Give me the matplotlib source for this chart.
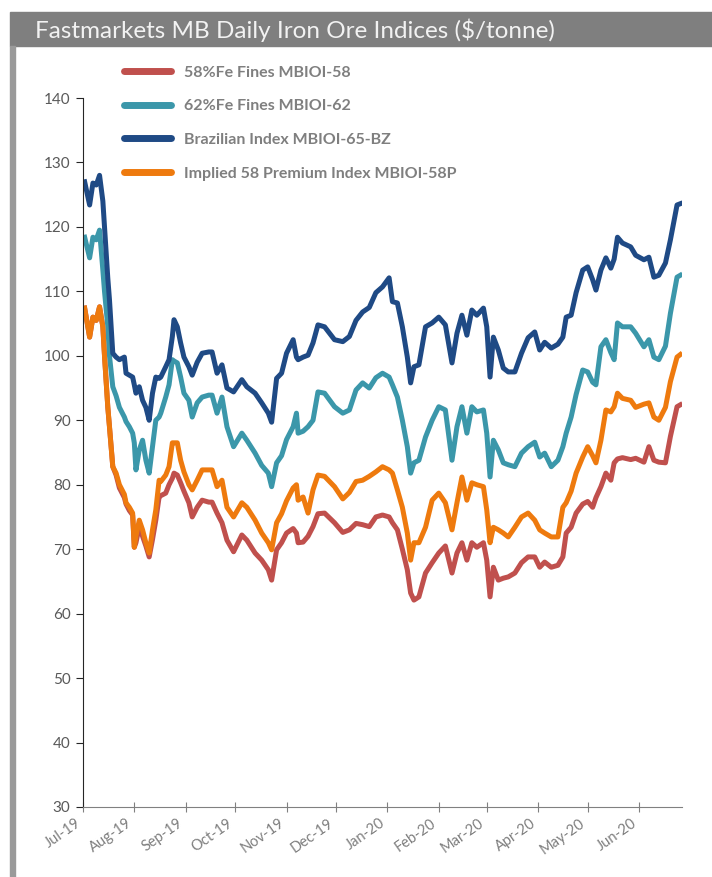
import matplotlib
matplotlib.use("Agg")
import matplotlib.pyplot as plt
import matplotlib.dates as mdates
import pandas as pd
from matplotlib.patches import Rectangle

plt.rcParams['font.family'] = ['Lato', 'DejaVu Sans']

# fechas (aprox. lecturas del grafico)
fechas = [
    "2019-07-02", "2019-07-05", "2019-07-07", "2019-07-09", "2019-07-11", "2019-07-13",
    "2019-07-14", "2019-07-16", "2019-07-17", "2019-07-19", "2019-07-21", "2019-07-23",
    "2019-07-26", "2019-07-27", "2019-07-29", "2019-07-31", "2019-08-01", "2019-08-02",
    "2019-08-04", "2019-08-06", "2019-08-08", "2019-08-10", "2019-08-12", "2019-08-14",
    "2019-08-16", "2019-08-17", "2019-08-20", "2019-08-22", "2019-08-24", "2019-08-25",
    "2019-08-27", "2019-08-29", "2019-08-31", "2019-09-03", "2019-09-05", "2019-09-08",
    "2019-09-11", "2019-09-15", "2019-09-17", "2019-09-20", "2019-09-23", "2019-09-26",
    "2019-09-30", "2019-10-05", "2019-10-08", "2019-10-13", "2019-10-17", "2019-10-21",
    "2019-10-23", "2019-10-26", "2019-10-29", "2019-11-01", "2019-11-05", "2019-11-07",
    "2019-11-08", "2019-11-11", "2019-11-14", "2019-11-17", "2019-11-20", "2019-11-24",
    "2019-11-30", "2019-12-05", "2019-12-09", "2019-12-13", "2019-12-17", "2019-12-21",
    "2019-12-25", "2019-12-29", "2020-01-02", "2020-01-04", "2020-01-07", "2020-01-10",
    "2020-01-13", "2020-01-15", "2020-01-17", "2020-01-20", "2020-01-24", "2020-01-28",
    "2020-02-01", "2020-02-05", "2020-02-09", "2020-02-12", "2020-02-15", "2020-02-18",
    "2020-02-21", "2020-02-24", "2020-02-28", "2020-03-01", "2020-03-03", "2020-03-05",
    "2020-03-08", "2020-03-11", "2020-03-14", "2020-03-18", "2020-03-22", "2020-03-26",
    "2020-03-30", "2020-04-02", "2020-04-05", "2020-04-09", "2020-04-13", "2020-04-16",
    "2020-04-18", "2020-04-21", "2020-04-24", "2020-04-28", "2020-05-01", "2020-05-04",
    "2020-05-06", "2020-05-09", "2020-05-12", "2020-05-15", "2020-05-17", "2020-05-19",
    "2020-05-22", "2020-05-27", "2020-05-30", "2020-06-04", "2020-06-07", "2020-06-10",
    "2020-06-13", "2020-06-17", "2020-06-20", "2020-06-24", "2020-06-26",
]

mbioi_58 = [
    107.4, 102.9, 106.0, 105.5, 107.6, 104.5, 100.0, 92.0, 89.0, 82.8, 81.5, 79.5,
    78.0, 77.0, 76.0, 75.3, 70.3, 71.0, 73.5, 72.0, 70.5, 68.8, 71.5, 74.5,
    78.1, 78.3, 78.7, 80.0, 81.0, 81.8, 81.5, 80.3, 79.0, 77.2, 75.0, 76.5,
    77.6, 77.3, 77.3, 75.6, 74.1, 71.4, 69.6, 72.2, 71.4, 69.4, 68.3, 66.8,
    65.2, 69.9, 71.0, 72.5, 73.2, 72.5, 71.0, 71.1, 72.0, 73.5, 75.5, 75.6,
    74.1, 72.6, 73.0, 74.0, 73.8, 73.5, 75.0, 75.3, 75.0, 74.1, 73.0, 70.0,
    66.8, 63.2, 62.1, 62.6, 66.3, 67.9, 69.4, 70.5, 66.3, 69.4, 71.0, 68.3,
    71.0, 70.3, 71.0, 68.3, 62.6, 67.2, 65.2, 65.5, 65.7, 66.3, 67.9, 68.8,
    68.8, 67.2, 68.0, 67.2, 67.5, 68.8, 72.5, 73.4, 75.6, 77.0, 77.4, 76.5,
    78.0, 79.7, 81.8, 80.7, 83.4, 84.0, 84.2, 83.9, 84.1, 83.5, 85.9, 83.8,
    83.5, 83.4, 87.5, 92.1, 92.4,
]

mbioi_62 = [
    118.4, 115.2, 118.4, 118.0, 119.5, 113.3, 110.0, 104.5, 100.0, 95.2, 93.8, 92.0,
    90.5, 89.8, 89.0, 88.0, 86.5, 82.3, 85.4, 86.9, 83.8, 81.8, 85.9, 90.0,
    90.5, 91.1, 93.6, 95.5, 99.4, 99.2, 98.9, 96.7, 94.2, 93.1, 90.5, 92.7,
    93.6, 93.9, 93.9, 91.1, 93.6, 89.0, 85.9, 88.0, 86.9, 84.9, 83.0, 81.8,
    79.7, 83.4, 84.5, 87.0, 89.0, 91.1, 88.0, 88.3, 89.0, 90.0, 94.4, 94.2,
    92.1, 91.1, 91.6, 94.7, 95.8, 95.0, 96.6, 97.3, 96.7, 95.5, 93.6, 90.0,
    85.9, 81.8, 83.4, 83.8, 87.4, 90.0, 92.1, 91.6, 83.8, 89.0, 92.1, 88.0,
    92.1, 91.3, 91.6, 88.0, 81.2, 86.9, 85.4, 83.4, 83.1, 82.8, 84.9, 85.9,
    86.6, 84.3, 84.9, 82.8, 83.8, 85.9, 88.0, 90.5, 94.0, 97.8, 97.5, 95.9,
    95.5, 101.4, 102.5, 100.5, 99.4, 105.1, 104.5, 104.5, 103.5, 101.4, 102.5, 99.8,
    99.4, 101.5, 106.6, 112.2, 112.5,
]

mbioi_65_bz = [
    127.0, 123.4, 126.8, 126.5, 128.0, 124.0, 120.0, 112.0, 108.7, 100.4, 99.8, 99.4,
    99.8, 97.3, 97.0, 96.7, 95.5, 94.2, 95.2, 93.1, 92.0, 90.0, 94.2, 96.7,
    96.5, 96.7, 98.3, 99.4, 103.0, 105.6, 104.5, 102.0, 99.8, 98.3, 97.0, 99.0,
    100.4, 100.6, 100.6, 97.3, 98.6, 95.0, 94.4, 96.3, 95.2, 94.2, 92.7, 91.1,
    89.7, 96.5, 97.3, 100.4, 102.5, 99.8, 99.4, 99.8, 100.1, 102.0, 104.8, 104.5,
    102.5, 102.2, 103.0, 105.5, 106.8, 107.5, 109.8, 110.7, 112.1, 108.4, 108.2, 104.5,
    99.8, 95.8, 98.3, 98.6, 104.5, 105.1, 106.0, 104.8, 98.9, 103.5, 106.3, 103.2,
    107.1, 106.3, 107.4, 104.5, 96.7, 102.9, 100.9, 98.1, 97.5, 97.5, 100.4, 102.8,
    103.7, 100.9, 102.1, 101.2, 101.8, 102.9, 106.0, 106.3, 109.8, 113.3, 113.8, 111.8,
    110.2, 113.3, 115.2, 113.6, 115.0, 118.4, 117.5, 116.9, 115.6, 114.9, 115.3, 112.2,
    112.5, 114.4, 118.0, 123.4, 123.6,
]

mbioi_58p = [
    107.4, 102.9, 106.0, 105.5, 107.6, 104.5, 100.0, 92.0, 89.0, 82.8, 81.8, 80.0,
    78.5, 77.2, 76.5, 75.6, 70.3, 72.0, 74.5, 73.0, 71.0, 69.4, 73.0, 76.1,
    80.7, 80.5, 81.5, 82.8, 86.5, 86.5, 86.5, 83.8, 82.0, 80.0, 79.2, 80.7,
    82.3, 82.3, 82.3, 79.7, 80.7, 76.5, 75.0, 77.2, 76.5, 74.5, 72.5, 71.0,
    69.9, 74.1, 75.5, 77.5, 79.5, 80.0, 77.6, 78.1, 75.6, 79.2, 81.5, 81.3,
    79.7, 77.8, 78.8, 80.5, 80.7, 81.3, 82.0, 82.8, 82.3, 81.8, 79.2, 76.5,
    72.5, 68.3, 71.0, 71.0, 73.4, 77.6, 78.7, 77.2, 73.0, 77.2, 81.2, 77.6,
    80.3, 80.0, 79.7, 76.1, 71.0, 73.4, 73.0, 72.5, 71.9, 73.4, 75.0, 75.6,
    74.5, 73.0, 72.5, 71.9, 71.9, 76.5, 77.2, 79.0, 81.8, 84.3, 85.9, 84.5,
    83.4, 86.9, 91.6, 91.3, 92.1, 94.2, 93.4, 93.1, 92.0, 92.5, 92.7, 90.5,
    90.0, 92.0, 96.0, 99.8, 100.2,
]

series = [
    ("58%Fe Fines MBIOI-58", mbioi_58, "#C0504D"),
    ("62%Fe Fines MBIOI-62", mbioi_62, "#3B97AA"),
    ("Brazilian Index MBIOI-65-BZ", mbioi_65_bz, "#1F4A85"),
    ("Implied 58 Premium Index MBIOI-58P", mbioi_58p, "#EE7A0E"),
]

df = pd.DataFrame({nom: vals for nom, vals, _ in series}, index=pd.to_datetime(fechas))

fig = plt.figure(figsize=(7.12, 8.77), dpi=100)
ax = fig.add_axes([83 / 712, 1 - 807 / 877, (682 - 83) / 712, (807 - 98) / 877])

for nom, _, color in series:
    ax.plot(df.index, df[nom], color=color, lw=3.6, label=nom, solid_joinstyle='round')

ax.set_ylim(30, 140)
ax.set_yticks(range(30, 141, 10))
ax.set_xlim(pd.Timestamp("2019-07-01"), pd.Timestamp("2020-06-27"))
ax.xaxis.set_major_locator(mdates.MonthLocator())
ax.xaxis.set_major_formatter(mdates.DateFormatter('%b-%y'))

ax.spines['top'].set_visible(False)
ax.spines['right'].set_visible(False)
ax.spines['left'].set_color('#262626')
ax.spines['bottom'].set_color('#808080')
ax.tick_params(axis='y', direction='out', length=5, colors='#262626', labelcolor='#595959',
               labelsize=11, pad=4)
ax.tick_params(axis='x', direction='inout', length=7, colors='#808080', labelcolor='#7f7f7f',
               labelsize=10.5, pad=3)
for lab in ax.get_xticklabels():
    lab.set_rotation(35)
    lab.set_ha('right')

leg = ax.legend(loc='upper left', bbox_to_anchor=(110 / 712, 1 - 51 / 877),
                bbox_transform=fig.transFigure, frameon=False, fontsize=11.5,
                handlelength=2.9, handletextpad=0.85, labelspacing=1.22)
for h in leg.get_lines():
    h.set_linewidth(5)
    h.set_solid_capstyle('round')
for t in leg.get_texts():
    t.set_color('#7f7f7f')
    t.set_fontweight('bold')

# barra del titulo y bordes
fig.patches.append(Rectangle((10 / 712, 1 - 46 / 877), 702 / 712, 34 / 877,
                             transform=fig.transFigure, color='#7f7f7f', zorder=0))
fig.patches.append(Rectangle((10 / 712, 0), 5 / 712, 1 - 46 / 877,
                             transform=fig.transFigure, color='#9a9a9a', zorder=0))
fig.text(35 / 712, 1 - 30 / 877, "Fastmarkets MB Daily Iron Ore Indices ($/tonne)",
         color='#f2f2f2', fontsize=17.5, va='center', ha='left')

fig.savefig("out.png", dpi=100)
